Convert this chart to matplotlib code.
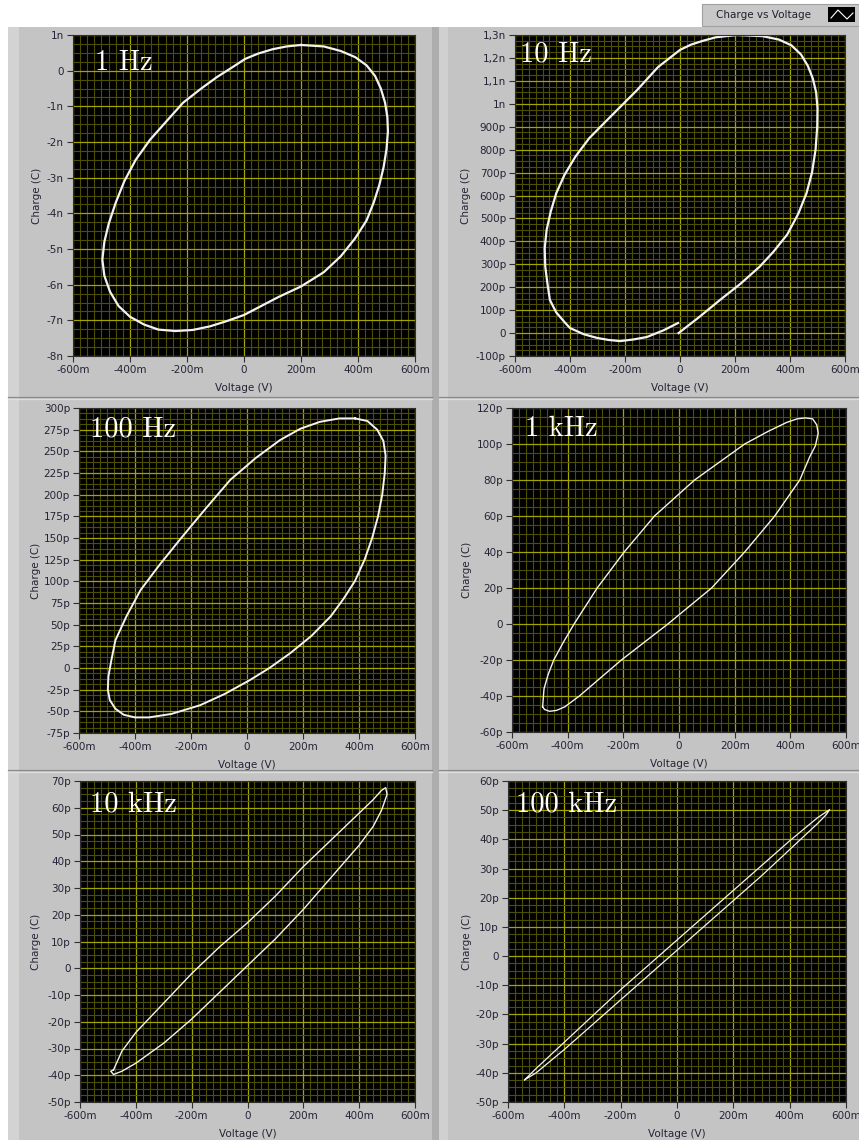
import matplotlib
matplotlib.use("Agg")
import matplotlib.pyplot as plt
from matplotlib.patches import Rectangle
from matplotlib.lines import Line2D
from matplotlib.ticker import MultipleLocator

W, H = 859, 1140

# ---- data (voltage in V, charge in the unit of each panel's ticks) ----
v_1hz = [0.20, 0.28, 0.34, 0.39, 0.43, 0.46, 0.48, 0.495, 0.503, 0.505, 0.50, 0.49, 0.475,
         0.455, 0.43, 0.39, 0.34, 0.28, 0.20, 0.12, 0.06, 0.0, -0.06, -0.12, -0.18, -0.24,
         -0.30, -0.35, -0.40, -0.44, -0.47, -0.49, -0.497, -0.49, -0.475, -0.45, -0.42,
         -0.38, -0.33, -0.27, -0.214, -0.15, -0.095, -0.04, 0.004, 0.05, 0.10, 0.15, 0.20]
q_1hz = [0.72, 0.68, 0.55, 0.38, 0.15, -0.15, -0.5, -0.9, -1.3, -1.7, -2.2, -2.7, -3.2,
         -3.7, -4.2, -4.7, -5.2, -5.65, -6.05, -6.35, -6.6, -6.85, -7.02, -7.17, -7.27, -7.3,
         -7.26, -7.12, -6.9, -6.6, -6.2, -5.75, -5.3, -4.8, -4.3, -3.7, -3.1,
         -2.5, -1.94, -1.4, -0.9, -0.5, -0.18, 0.1, 0.33, 0.48, 0.6, 0.68, 0.72]

v_10hz = [-0.005, 0.07, 0.145, 0.22, 0.29, 0.34, 0.39, 0.43, 0.46, 0.48, 0.493, 0.499, 0.50,
          0.495, 0.483, 0.465, 0.44, 0.405, 0.36, 0.30, 0.207, 0.13, 0.084, 0.04, 0.0, -0.08,
          -0.156, -0.265, -0.33, -0.38, -0.42, -0.45, -0.47, -0.485, -0.492, -0.49, -0.482,
          -0.473, -0.45, -0.42, -0.40, -0.35, -0.302, -0.26, -0.218, -0.17, -0.12, -0.06, -0.007]
q_10hz = [0, 70, 144, 215, 290, 355, 430, 520, 610, 700, 800, 900, 980,
          1050, 1110, 1165, 1215, 1255, 1280, 1295, 1300, 1290, 1275, 1258, 1235, 1160,
          1060, 929, 850, 770, 690, 610, 530, 450, 370, 290, 215,
          144, 90, 48, 22, -5, -21, -30, -35, -28, -17, 12, 44]

v_100hz = [0.386, 0.43, 0.465, 0.487, 0.495, 0.492, 0.483, 0.468, 0.447, 0.42, 0.385, 0.345,
           0.30, 0.23, 0.154, 0.08, 0.01, -0.08, -0.168, -0.27, -0.35, -0.40, -0.44, -0.47,
           -0.49, -0.497, -0.495, -0.485, -0.47, -0.43, -0.38, -0.31, -0.24, -0.15, -0.06,
           0.03, 0.118, 0.19, 0.26, 0.33, 0.386]
q_100hz = [288, 285, 275, 262, 245, 225, 200, 175, 150, 125, 100, 80,
           60, 37, 17, 0, -14, -30, -43, -53, -57, -57, -54, -47,
           -37, -25, -10, 8, 32, 60, 90, 120, 148, 183, 217,
           242, 263, 276, 284, 288, 288]

v_1khz = [-0.49, -0.485, -0.47, -0.45, -0.415, -0.377, -0.294, -0.197, -0.088, 0.056, 0.236,
          0.32, 0.387, 0.425, 0.453, 0.48, 0.495, 0.50, 0.49, 0.47, 0.434, 0.344, 0.236, 0.117,
          -0.04, -0.207, -0.358, -0.41, -0.44, -0.465, -0.483, -0.49]
q_1khz = [-46, -36, -28, -20, -10, 0, 20, 40, 60, 80, 100,
          107, 112, 114, 114.5, 114, 110.6, 106, 99, 93, 80, 60, 40, 20,
          0, -20, -40, -46, -48, -48.5, -47.5, -46]

v_10khz = [-0.48, -0.45, -0.40, -0.30, -0.20, -0.10, 0.0, 0.10, 0.20, 0.30, 0.40, 0.45, 0.48, 0.495,
           0.50, 0.48, 0.45, 0.40, 0.30, 0.20, 0.10, 0.0, -0.10, -0.20, -0.30, -0.40, -0.45,
           -0.48, -0.49, -0.48]
q_10khz = [-38, -31, -24, -13, -2, 8, 17, 27, 38, 48, 58, 63, 66.5, 67.5,
           65, 59, 53, 46, 34, 22, 11, 1, -9, -19, -28, -35.5, -38.5,
           -39.7, -38.5, -38]

v_100khz = [-0.541, -0.50, -0.40, -0.30, -0.20, -0.10, 0.0, 0.10, 0.20, 0.30, 0.40, 0.50, 0.542,
            0.53, 0.50, 0.40, 0.30, 0.20, 0.10, 0.0, -0.10, -0.20, -0.30, -0.40, -0.50, -0.541]
q_100khz = [-42.4, -38.5, -29.5, -20.5, -11.5, -3.0, 5.5, 14.0, 22.5, 31.0, 39.5, 47.5, 50.2,
            48.5, 45.5, 36.5, 27.5, 19.0, 10.5, 2.0, -6.5, -15.0, -23.5, -32.0, -40.0, -42.4]

x_ticks = [-0.6, -0.4, -0.2, 0, 0.2, 0.4, 0.6]
x_labels = ["-600m", "-400m", "-200m", "0", "200m", "400m", "600m"]

y_ticks_1hz = list(range(-8, 2))
y_labels_1hz = ["-8n", "-7n", "-6n", "-5n", "-4n", "-3n", "-2n", "-1n", "0", "1n"]
y_ticks_10hz = list(range(-100, 1301, 100))
y_labels_10hz = ["-100p", "0", "100p", "200p", "300p", "400p", "500p", "600p", "700p",
                 "800p", "900p", "1n", "1,1n", "1,2n", "1,3n"]
y_ticks_100hz = list(range(-75, 301, 25))
y_labels_100hz = ["-75p", "-50p", "-25p", "0"] + ["%dp" % v for v in range(25, 301, 25)]
y_ticks_1khz = list(range(-60, 121, 20))
y_labels_1khz = ["-60p", "-40p", "-20p", "0", "20p", "40p", "60p", "80p", "100p", "120p"]
y_ticks_10khz = list(range(-50, 71, 10))
y_labels_10khz = ["-50p", "-40p", "-30p", "-20p", "-10p", "0", "10p", "20p", "30p", "40p",
                  "50p", "60p", "70p"]
y_ticks_100khz = list(range(-50, 61, 10))
y_labels_100khz = ["-50p", "-40p", "-30p", "-20p", "-10p", "0", "10p", "20p", "30p", "40p",
                   "50p", "60p"]

titles = ["1 Hz", "10 Hz", "100 Hz", "1 kHz", "10 kHz", "100 kHz"]

# ---- figure and grey panel background ----
fig = plt.figure(figsize=(W / 100, H / 100), dpi=100, facecolor="white")


def rect(x0, y0, x1, y1, color, z=0, **kw):
    fig.add_artist(Rectangle((x0 / W, 1 - y1 / H), (x1 - x0) / W, (y1 - y0) / H,
                             transform=fig.transFigure, facecolor=color,
                             edgecolor=kw.pop("ec", "none"), lw=kw.pop("lw", 0),
                             zorder=z, **kw))


def hline(y, x0, x1, color, lw=1.0):
    fig.add_artist(Line2D([x0 / W, x1 / W], [1 - y / H, 1 - y / H],
                          transform=fig.transFigure, color=color, lw=lw, zorder=1))


rect(8, 27, 432, H, "#c4c4c4")
rect(8, 27, 19, H, "#d3d3d3")
rect(432, 27, W, H, "#c4c4c4")
rect(432, 27, 439, H, "#adadad")
rect(439, 27, 448, H, "#d0d0d0")
for y in (397, 770):
    hline(y, 8, 432, "#8a8a8a", 0.9)
    hline(y + 1.5, 8, 432, "#dedede", 0.9)
    hline(y, 439, W, "#8a8a8a", 0.9)
    hline(y + 1.5, 439, W, "#dedede", 0.9)

# legend box at the top
rect(702, 4, W, 26, "#c8c8c8", z=1, ec="#a0a0a0", lw=0.8)
fig.text(763 / W, 1 - 15 / H, "Charge vs Voltage", ha="center", va="center",
         fontsize=7.5, color="#202030", zorder=3)
rect(828, 7, 855, 22, "black", z=2)
fig.add_artist(Line2D([831 / W, 838 / W, 847 / W, 853 / W],
                      [1 - 18 / H, 1 - 10 / H, 1 - 19 / H, 1 - 13 / H],
                      transform=fig.transFigure, color="white", lw=0.8, zorder=3))

# ---- panels ----
panels = [
    # (left, right, top, bottom) px, data, yticks, ylabels, ylimits, ylabel offset, title offset, lw
    ((73, 415, 35, 356), (v_1hz, q_1hz), y_ticks_1hz, y_labels_1hz, (-8, 1), 36, (22, 35), 1.6),
    ((515, 845, 35, 356), (v_10hz, q_10hz), y_ticks_10hz, y_labels_10hz, (-100, 1300), 49, (5, 26), 1.6),
    ((79, 415, 408, 733), (v_100hz, q_100hz), y_ticks_100hz, y_labels_100hz, (-75, 300), 43, (11, 28), 1.4),
    ((512, 846, 408, 732), (v_1khz, q_1khz), y_ticks_1khz, y_labels_1khz, (-60, 120), 45, (13, 28), 1.0),
    ((80, 415, 781, 1102), (v_10khz, q_10khz), y_ticks_10khz, y_labels_10khz, (-50, 70), 44, (10, 30), 1.0),
    ((508, 846, 781, 1102), (v_100khz, q_100khz), y_ticks_100khz, y_labels_100khz, (-50, 60), 41, (8, 31), 0.9),
]

tick_color = "#242436"
for (box, (vx, qy), yt, yl, ylim, ylab_off, (tdx, tdy), lw), title in zip(panels, titles):
    l, r, t, b = box
    ax = fig.add_axes([l / W, 1 - b / H, (r - l) / W, (b - t) / H])
    ax.set_facecolor("black")
    ax.set_xlim(-0.6, 0.6)
    ax.set_ylim(*ylim)
    ax.set_xticks(x_ticks)
    ax.set_xticklabels(x_labels)
    ax.set_yticks(yt)
    ax.set_yticklabels(yl)
    ax.xaxis.set_minor_locator(MultipleLocator(0.025))
    ax.yaxis.set_minor_locator(MultipleLocator((yt[1] - yt[0]) / 4))
    ax.grid(which="minor", color="#4e4e00", lw=0.8)
    ax.grid(which="major", color="#a4a400", lw=0.9)
    ax.set_axisbelow(True)
    ax.tick_params(which="minor", length=0)
    ax.tick_params(which="major", direction="out", length=4.5, width=0.8, pad=2,
                   color="#303030", labelsize=7.5, labelcolor=tick_color)
    for s in ax.spines.values():
        s.set_color("#303030")
        s.set_linewidth(0.8)

    ax.plot(vx, qy, color="#f2f2f2", lw=lw, solid_joinstyle="round")

    ax.set_xlabel("Voltage (V)", fontsize=7.5, color=tick_color)
    ax.set_ylabel("Charge (C)", fontsize=7.5, color=tick_color)
    ax.xaxis.set_label_coords(0.5, -32 / (b - t))
    ax.xaxis.label.set_va("center")
    ax.yaxis.set_label_coords(-ylab_off / (r - l), 0.5)
    ax.yaxis.label.set_va("center")

    fig.text((l + tdx) / W, 1 - (t + tdy) / H, title, family="cmr10", fontsize=20.5,
             color="white", ha="left", va="baseline")

fig.savefig("out.png", dpi=100, facecolor="white")
